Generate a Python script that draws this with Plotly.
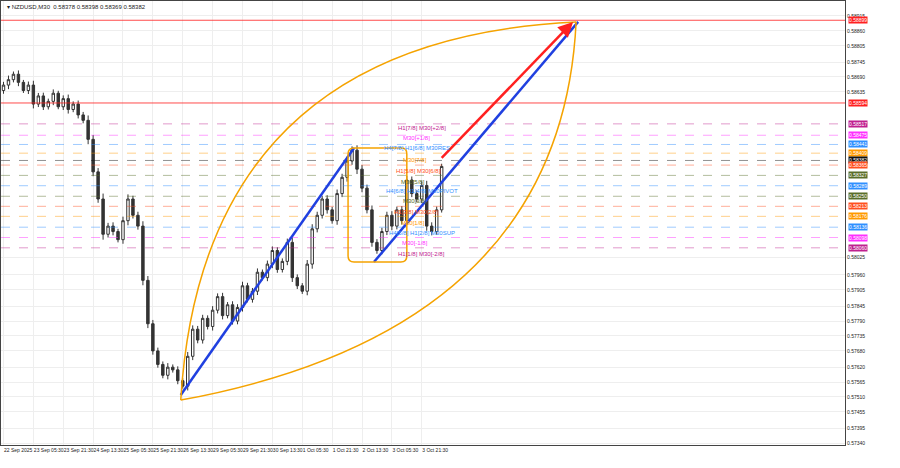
import plotly.graph_objects as go

# NZDUSD M30, one candle per ~2.5 hours
closes = [0.5866, 0.5868, 0.5870, 0.5867, 0.5864, 0.5866, 0.5859, 0.5862, 0.5858, 0.5860,
          0.5863, 0.5858, 0.5861, 0.5857, 0.5859, 0.5855, 0.5853, 0.5846, 0.5834, 0.5824,
          0.5811, 0.5814, 0.5812, 0.5809, 0.5816, 0.5824, 0.5818, 0.5814, 0.5794, 0.5778,
          0.5768, 0.5763, 0.5759, 0.5762, 0.5761, 0.5757, 0.5755, 0.5766, 0.5776, 0.5772,
          0.5780, 0.5777, 0.5783, 0.5788, 0.5781, 0.5785, 0.5779, 0.5784, 0.5792, 0.5787,
          0.5790, 0.5797, 0.5795, 0.5800, 0.5805, 0.5798, 0.5801, 0.5808, 0.5795, 0.5792,
          0.5790, 0.5800, 0.5813, 0.5818, 0.5824, 0.5820, 0.5816, 0.5826, 0.5832, 0.5838,
          0.5842, 0.5835, 0.5828, 0.5820, 0.5808, 0.5805, 0.5812, 0.5818, 0.5814, 0.5820,
          0.5816, 0.5831, 0.5826, 0.5824, 0.5829, 0.5814, 0.5812, 0.5820, 0.5836]
wicks = [12, 15, 10, 14, 9, 13, 16, 11, 12, 10, 14, 9, 12, 15, 10, 13, 11, 18, 16, 14,
         20, 12, 14, 10, 15, 17, 12, 13, 18, 16, 14, 12, 11, 15, 10, 13, 9, 16, 14, 12,
         13, 11, 15, 12, 14, 10, 13, 12, 15, 11, 12, 14, 10, 13, 15, 12, 11, 14, 16, 12,
         10, 15, 17, 13, 12, 14, 11, 15, 13, 16, 14, 18, 15, 13, 16, 12, 14, 13, 15, 12,
         14, 16, 13, 12, 15, 17, 14, 12, 10]
date_labels = ["22 Sep 2025", "23 Sep 05:30", "23 Sep 21:30", "24 Sep 13:30", "25 Sep 05:30",
               "25 Sep 21:30", "26 Sep 13:30", "29 Sep 05:30", "29 Sep 21:30", "30 Sep 13:30",
               "1 Oct 05:30", "1 Oct 21:30", "2 Oct 13:30", "3 Oct 05:30", "3 Oct 21:30"]
price_ticks = [0.58915, 0.58860, 0.58805, 0.58745, 0.58690, 0.58635, 0.58025, 0.57960,
               0.57905, 0.57845, 0.57790, 0.57735, 0.57680, 0.57620, 0.57565, 0.57510,
               0.57455, 0.57395, 0.57340]
levels = [0.58899, 0.58594, 0.58517, 0.58475, 0.58441, 0.58409, 0.58382, 0.58365, 0.58327,
          0.58289, 0.58250, 0.58213, 0.58176, 0.58136, 0.58098, 0.58060]
level_colors = ["#ff2020", "#ff2020", "#c0208f", "#ff30ff", "#2f8fff", "#ff9900", "#111111",
                "#ff5020", "#5a6e2a", "#2f8fff", "#5a6e2a", "#ff5020", "#ff9900", "#2f8fff",
                "#ff30ff", "#c0208f"]
murrey_text = ["H1[7/8] M30[+2/8]", "M30[+1/8]", "H4[7/8] H1[6/8] M30RES", "M30[7/8]",
               "H1[5/8] M30[6/8]", "M30[5/8]", "H4[6/8] H1[4/8] M30PIVOT", "M30[3/8]",
               "H1[3/8] M30[2/8]", "M30[1/8]", "H4[5/8] H1[2/8] M30SUP", "M30[-1/8]",
               "H1[1/8] M30[-2/8]"]
murrey_colors = ["#c0208f", "#ff30ff", "#2f8fff", "#ff9900", "#ff5020", "#5a6e2a", "#2f8fff",
                 "#5a6e2a", "#ff5020", "#ff9900", "#2f8fff", "#ff30ff", "#c0208f"]


def px(x, y):
    """Screen pixel -> (candle index, price)."""
    return x / 5, 0.58915 - (y - 16) / 27111


xs = list(range(len(closes)))
opens = [0.5864] + closes[:-1]
highs = [max(o, c) + w * 1e-5 for o, c, w in zip(opens, closes, wicks)]
lows = [min(o, c) - w * 1e-5 for o, c, w in zip(opens, closes, wicks)]

fig = go.Figure()
fig.add_trace(go.Candlestick(
    x=xs, open=opens, high=highs, low=lows, close=closes,
    increasing=dict(line=dict(color="#333333", width=1), fillcolor="#ffffff"),
    decreasing=dict(line=dict(color="#333333", width=1), fillcolor="#333333"),
    showlegend=False, whiskerwidth=0,
))

shapes = []
for i, (lv, col) in enumerate(zip(levels, level_colors)):
    solid = i < 2
    shapes.append(dict(type="line", xref="paper", x0=0, x1=1, y0=lv, y1=lv,
                       line=dict(color=col, width=1, dash="solid" if solid else "dash"),
                       opacity=0.8 if solid else 0.45))


def seg(p0, p1, color, width):
    (x0, y0), (x1, y1) = px(*p0), px(*p1)
    shapes.append(dict(type="line", x0=x0, y0=y0, x1=x1, y1=y1,
                       line=dict(color=color, width=width)))


seg((178, 395), (352, 148), "#2040e0", 2.5)
seg((372, 262), (577, 22), "#2040e0", 2.5)
seg((440, 158), (566, 28), "#ff2020", 2.5)


def path(points):
    out = []
    for cmd, pts in points:
        out.append(cmd + " ".join("%.3f,%.6f" % px(*p) for p in pts))
    return " ".join(out)


# Lens curves and the rounded box
shapes.append(dict(type="path", line=dict(color="#f5a300", width=1.5),
                   path=path([("M", [(178, 400)]), ("Q", [(200, 40), (575, 22)])])))
shapes.append(dict(type="path", line=dict(color="#f5a300", width=1.5),
                   path=path([("M", [(178, 400)]), ("Q", [(560, 330), (575, 22)])])))
shapes.append(dict(type="path", line=dict(color="#f5a300", width=1.5),
                   path=path([("M", [(352, 148)]), ("L", [(400, 148)]),
                              ("Q", [(405, 148), (405, 154)]), ("L", [(405, 256)]),
                              ("Q", [(405, 262), (399, 262)]), ("L", [(352, 262)]),
                              ("Q", [(346, 262), (346, 256)]), ("L", [(346, 154)]),
                              ("Q", [(346, 148), (352, 148)])])))

ax, ay = px(572, 22)
tx, ty = px(560, 34)
annotations = [dict(x=ax, y=ay, ax=tx, ay=ty, xref="x", yref="y", axref="x", ayref="y",
                    showarrow=True, arrowhead=2, arrowsize=1.2, arrowwidth=2.5,
                    arrowcolor="#ff2020", text="")]
label_y = [128, 138, 148, 160, 171, 182, 191, 201, 212, 223, 233, 243, 254]
label_x = [420, 415, 415, 413, 417, 411, 420, 413, 415, 411, 420, 413, 420]
for t, col, lx, ly in zip(murrey_text, murrey_colors, label_x, label_y):
    xx, yy = px(lx, ly)
    annotations.append(dict(x=xx, y=yy, text=t, showarrow=False, xanchor="center",
                            font=dict(size=6, color=col, family="Liberation Sans")))
for lv, col in zip(levels, level_colors):
    annotations.append(dict(xref="paper", x=1.003, y=lv, text="%.5f" % lv, showarrow=False,
                            xanchor="left", bgcolor=col, borderpad=0,
                            font=dict(size=5, color="white", family="Liberation Sans")))
annotations.append(dict(xref="paper", yref="paper", x=0.005, y=0.998, xanchor="left",
                        yanchor="top", showarrow=False,
                        text="▾ NZDUSD,M30  0.58378 0.58398 0.58369 0.58382",
                        font=dict(size=6, color="#222222", family="Liberation Sans")))

fig.update_layout(
    width=900, height=468, margin=dict(l=1, r=55, t=1, b=23),
    paper_bgcolor="white", plot_bgcolor="white",
    shapes=shapes, annotations=annotations,
    xaxis=dict(range=[-0.5, 169], rangeslider=dict(visible=False), automargin=False,
               tickvals=[6 * i for i in range(len(date_labels))], ticktext=date_labels,
               tickangle=0, ticklabelposition="outside right",
               tickfont=dict(size=5, color="#222222", family="Liberation Sans"),
               showgrid=True, gridcolor="#eeeeee", showline=True, linecolor="#444444",
               mirror=True, ticks="", zeroline=False),
    yaxis=dict(side="right", range=[0.57333, 0.58970], tickvals=price_ticks, automargin=False,
               ticktext=["%.5f" % p for p in price_ticks],
               tickfont=dict(size=5, color="#222222", family="Liberation Sans"),
               showgrid=True, gridcolor="#eeeeee", showline=True, linecolor="#444444",
               mirror=True, zeroline=False),
)

fig.write_html("out.html", post_script="document.body.style.margin='0';",
               config={"displayModeBar": False})
